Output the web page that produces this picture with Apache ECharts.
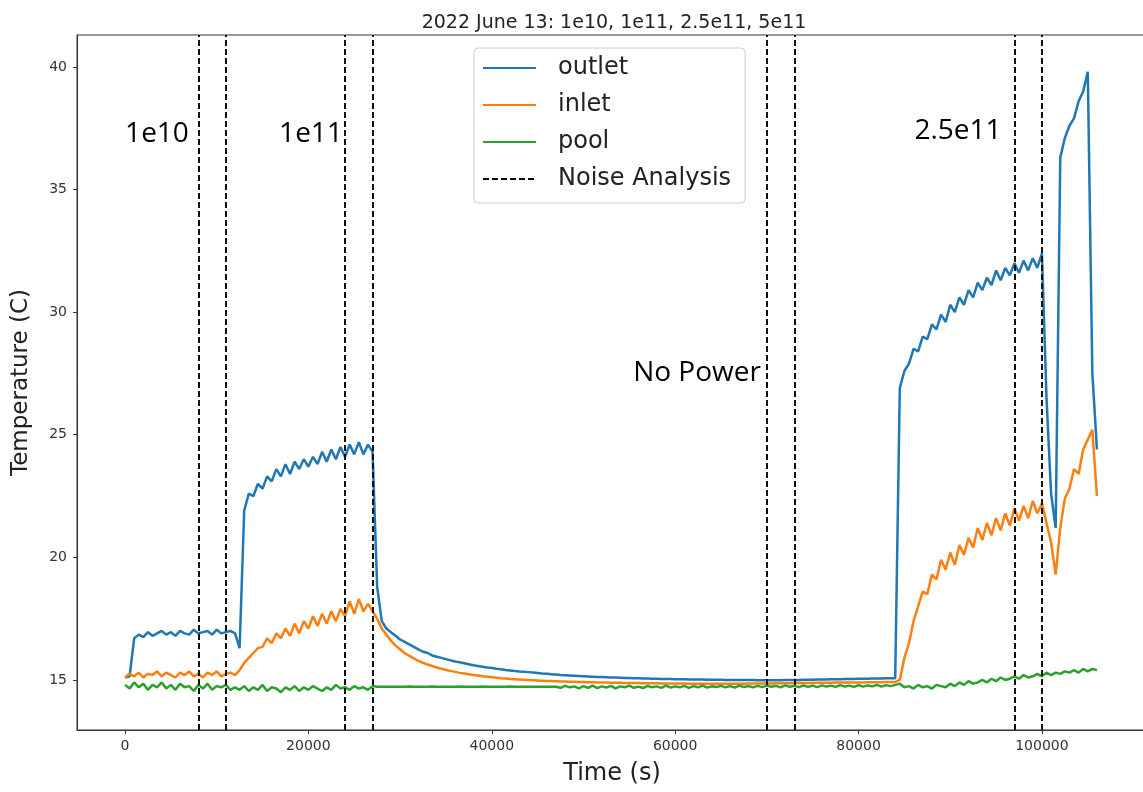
<!DOCTYPE html>
<html>
<head>
<meta charset="utf-8">
<title>2022 June 13</title>
<script src="https://cdn.jsdelivr.net/npm/echarts@6/dist/echarts.min.js"></script>
<style>
  html, body { margin: 0; padding: 0; background: #fff; }
  #chart { width: 1143px; height: 792px; }
</style>
</head>
<body>
<div id="chart"></div>
<script>
// sample times (s), one line = 5000 s
const timeS = [
  0, 500, 1000, 1500, 2000, 2500, 3000, 3500, 4000, 4500,
  5000, 5500, 6000, 6500, 7000, 7500, 8000, 8500, 9000, 9500,
  10000, 10500, 11000, 11500, 12000, 12500, 13000, 13500, 14000, 14500,
  15000, 15500, 16000, 16500, 17000, 17500, 18000, 18500, 19000, 19500,
  20000, 20500, 21000, 21500, 22000, 22500, 23000, 23500, 24000, 24500,
  25000, 25500, 26000, 26500, 27000, 27500, 28000, 28500, 29000, 29500,
  30000, 30500, 31000, 31500, 32000, 32500, 33000, 33500, 34000, 34500,
  35000, 35500, 36000, 36500, 37000, 37500, 38000, 38500, 39000, 39500,
  40000, 40500, 41000, 41500, 42000, 42500, 43000, 43500, 44000, 44500,
  45000, 45500, 46000, 46500, 47000, 47500, 48000, 48500, 49000, 49500,
  50000, 50500, 51000, 51500, 52000, 52500, 53000, 53500, 54000, 54500,
  55000, 55500, 56000, 56500, 57000, 57500, 58000, 58500, 59000, 59500,
  60000, 60500, 61000, 61500, 62000, 62500, 63000, 63500, 64000, 64500,
  65000, 65500, 66000, 66500, 67000, 67500, 68000, 68500, 69000, 69500,
  70000, 70500, 71000, 71500, 72000, 72500, 73000, 73500, 74000, 74500,
  75000, 75500, 76000, 76500, 77000, 77500, 78000, 78500, 79000, 79500,
  80000, 80500, 81000, 81500, 82000, 82500, 83000, 83500, 84000, 84500,
  85000, 85500, 86000, 86500, 87000, 87500, 88000, 88500, 89000, 89500,
  90000, 90500, 91000, 91500, 92000, 92500, 93000, 93500, 94000, 94500,
  95000, 95500, 96000, 96500, 97000, 97500, 98000, 98500, 99000, 99500,
  100000, 100500, 101000, 101500, 102000, 102500, 103000, 103500, 104000, 104500,
  105000, 105500, 106000
];

// outlet temperature (C)
const outletC = [
  15.1, 15.15, 16.7, 16.85, 16.75, 16.95, 16.8, 16.9, 17.0, 16.85,
  16.95, 16.8, 17.0, 16.9, 16.85, 17.05, 16.9, 16.95, 17.0, 16.85,
  17.05, 16.9, 16.95, 17.0, 16.9, 16.3, 21.9, 22.6, 22.5, 23.0,
  22.8, 23.3, 23.1, 23.6, 23.3, 23.8, 23.4, 23.9, 23.6, 24.0,
  23.7, 24.1, 23.8, 24.3, 23.9, 24.4, 24.0, 24.5, 24.1, 24.6,
  24.2, 24.7, 24.2, 24.6, 24.3, 18.8, 17.4, 17.1, 16.95, 16.8,
  16.65, 16.55, 16.45, 16.35, 16.25, 16.15, 16.1, 16.0, 15.95, 15.9,
  15.85, 15.8, 15.75, 15.72, 15.68, 15.64, 15.6, 15.57, 15.54, 15.51,
  15.49, 15.46, 15.44, 15.41, 15.39, 15.37, 15.35, 15.34, 15.32, 15.3,
  15.28, 15.26, 15.25, 15.23, 15.22, 15.2, 15.19, 15.18, 15.17, 15.16,
  15.15, 15.14, 15.13, 15.12, 15.12, 15.11, 15.1, 15.1, 15.09, 15.08,
  15.08, 15.07, 15.07, 15.06, 15.06, 15.05, 15.05, 15.04, 15.04, 15.04,
  15.03, 15.03, 15.03, 15.02, 15.02, 15.02, 15.02, 15.01, 15.01, 15.01,
  15.01, 15.0, 15.0, 15.0, 15.0, 15.0, 15.0, 15.0, 14.99, 14.99,
  14.99, 14.99, 14.99, 14.99, 15.0, 15.0, 15.0, 15.0, 15.01, 15.01,
  15.01, 15.02, 15.02, 15.02, 15.03, 15.03, 15.03, 15.04, 15.04, 15.04,
  15.05, 15.05, 15.05, 15.06, 15.06, 15.06, 15.07, 15.07, 15.07, 26.9,
  27.6, 27.9, 28.5, 28.4, 29.0, 28.9, 29.5, 29.3, 29.9, 29.6,
  30.3, 30.0, 30.6, 30.3, 30.9, 30.6, 31.2, 30.9, 31.4, 31.1,
  31.7, 31.3, 31.8, 31.5, 32.0, 31.6, 32.1, 31.7, 32.2, 31.8,
  32.4, 26.5, 22.6, 21.2, 36.3, 37.1, 37.6, 37.9, 38.6, 39.0,
  39.8, 27.5, 24.4
];

// inlet temperature (C)
const inletC = [
  15.1, 15.25, 15.15, 15.3, 15.1, 15.25, 15.2, 15.35, 15.15, 15.3,
  15.2, 15.1, 15.3, 15.2, 15.35, 15.15, 15.25, 15.1, 15.3, 15.2,
  15.35, 15.15, 15.25, 15.3, 15.2, 15.4, 15.7, 15.9, 16.1, 16.3,
  16.35, 16.7, 16.5, 16.9, 16.7, 17.1, 16.8, 17.3, 16.9, 17.4,
  17.1, 17.6, 17.2, 17.7, 17.3, 17.8, 17.4, 17.9, 17.6, 18.2,
  17.7, 18.3, 17.8, 18.1, 17.8, 17.5, 17.1, 16.85, 16.6, 16.4,
  16.25, 16.1, 15.98, 15.88, 15.78, 15.7, 15.63, 15.57, 15.51, 15.46,
  15.41, 15.37, 15.33, 15.29, 15.26, 15.23, 15.2, 15.18, 15.15, 15.13,
  15.11, 15.09, 15.07, 15.06, 15.04, 15.03, 15.02, 15.01, 15.0, 14.99,
  14.98, 14.97, 14.96, 14.96, 14.95, 14.94, 14.94, 14.93, 14.93, 14.92,
  14.92, 14.91, 14.91, 14.9, 14.9, 14.9, 14.89, 14.89, 14.89, 14.88,
  14.88, 14.88, 14.88, 14.87, 14.87, 14.87, 14.87, 14.86, 14.86, 14.86,
  14.86, 14.86, 14.86, 14.85, 14.85, 14.85, 14.85, 14.85, 14.85, 14.85,
  14.85, 14.85, 14.85, 14.85, 14.85, 14.85, 14.86, 14.86, 14.86, 14.86,
  14.86, 14.86, 14.87, 14.87, 14.87, 14.87, 14.88, 14.88, 14.88, 14.88,
  14.88, 14.89, 14.89, 14.89, 14.89, 14.9, 14.9, 14.9, 14.9, 14.9,
  14.9, 14.9, 14.91, 14.91, 14.91, 14.91, 14.92, 14.92, 14.92, 15.0,
  15.9, 16.5, 17.4, 18.0, 18.6, 18.5, 19.3, 19.1, 19.9, 19.5,
  20.2, 19.7, 20.5, 20.1, 20.8, 20.4, 21.2, 20.7, 21.4, 20.9,
  21.6, 21.1, 21.8, 21.3, 22.0, 21.5, 22.1, 21.6, 22.3, 21.8,
  22.2, 21.4, 20.6, 19.3, 21.2, 22.4, 22.8, 23.6, 23.4, 24.4,
  24.8, 25.2, 22.5
];

// pool temperature (C)
const poolC = [
  14.8, 14.65, 14.9, 14.7, 14.85, 14.6, 14.8, 14.7, 14.9, 14.65,
  14.8, 14.6, 14.85, 14.7, 14.75, 14.55, 14.8, 14.65, 14.85, 14.6,
  14.75, 14.7, 14.8, 14.6, 14.7, 14.6, 14.75, 14.55, 14.7, 14.6,
  14.8, 14.55, 14.7, 14.65, 14.5, 14.7, 14.6, 14.75, 14.55, 14.7,
  14.6, 14.75, 14.65, 14.55, 14.7, 14.6, 14.8, 14.65, 14.7, 14.6,
  14.75, 14.65, 14.7, 14.6, 14.75, 14.72, 14.72, 14.72, 14.72, 14.72,
  14.72, 14.72, 14.73, 14.72, 14.72, 14.72, 14.72, 14.73, 14.72, 14.72,
  14.72, 14.72, 14.72, 14.73, 14.72, 14.72, 14.72, 14.72, 14.73, 14.72,
  14.72, 14.72, 14.72, 14.72, 14.73, 14.72, 14.72, 14.72, 14.72, 14.72,
  14.72, 14.72, 14.72, 14.72, 14.72, 14.68, 14.76, 14.7, 14.74, 14.66,
  14.75, 14.68, 14.77, 14.67, 14.74, 14.69, 14.76, 14.66, 14.74, 14.7,
  14.77, 14.68, 14.73, 14.67, 14.76, 14.7, 14.74, 14.68, 14.77, 14.69,
  14.74, 14.7, 14.76, 14.68, 14.75, 14.7, 14.77, 14.69, 14.74, 14.71,
  14.76, 14.7, 14.75, 14.69, 14.77, 14.71, 14.75, 14.7, 14.76, 14.71,
  14.77, 14.72, 14.76, 14.7, 14.78, 14.72, 14.76, 14.71, 14.78, 14.72,
  14.77, 14.71, 14.78, 14.73, 14.77, 14.72, 14.79, 14.73, 14.77, 14.72,
  14.79, 14.73, 14.78, 14.74, 14.8, 14.73, 14.79, 14.75, 14.8, 14.85,
  14.7, 14.75, 14.65, 14.8, 14.7, 14.75, 14.65, 14.8, 14.75, 14.7,
  14.85, 14.75, 14.9, 14.8, 14.95, 14.85, 14.9, 15.0, 14.9, 15.05,
  14.95, 15.1, 15.0, 15.05, 15.15, 15.05, 15.2, 15.1, 15.15, 15.25,
  15.15, 15.3, 15.2, 15.3, 15.25, 15.35, 15.3, 15.4, 15.3, 15.45,
  15.35, 15.45, 15.4
];

// noise analysis windows (s)
const noiseLines = [8000, 11000, 24000, 27000, 70000, 73000, 97000, 100000];
const xTicks = [0, 20000, 40000, 60000, 80000, 100000];
const yTicks = [15, 20, 25, 30, 35, 40];
const phaseNames = ['1e10', '1e11', 'No Power', '2.5e11'];

const chart = echarts.init(document.getElementById('chart'), null, { renderer: 'canvas' });

const pair = (vals) => timeS.map((t, i) => [t, vals[i]]);
const lineSeries = (name, color, vals) => ({
  name: name,
  type: 'line',
  data: pair(vals),
  symbol: 'none',
  showSymbol: false,
  sampling: null,
  lineStyle: { color: color, width: 2.5 },
  itemStyle: { color: color },
  emphasis: { disabled: true },
});

const noteFont = '28px "Open Sans", "Noto Sans", sans-serif';
const noteText = (txt, x, y) => ({
  type: 'text',
  x: x,
  y: y,
  silent: true,
  style: { text: txt, font: noteFont, fill: '#000', align: 'center', verticalAlign: 'middle' },
});

chart.setOption({
  animation: false,
  backgroundColor: '#fff',
  title: {
    text: '2022 June 13: 1e10, 1e11, 2.5e11, 5e11',
    left: 609,
    top: 9,
    textAlign: 'center',
    textStyle: { fontFamily: 'DejaVu Sans', fontSize: 19, fontWeight: 'normal', color: '#222' },
  },
  // the axes box runs past the right edge of the picture
  grid: {
    left: 77, width: 1070, top: 35, bottom: 62,
    show: true, borderColor: '#333', borderWidth: 1,
    containLabel: false, outerBoundsMode: 'none',
  },
  legend: {
    orient: 'vertical',
    left: 474,
    top: 48,
    padding: [8, 14, 12, 8],
    itemWidth: 53,
    itemHeight: 14,
    itemGap: 13,
    borderColor: '#ccc',
    borderWidth: 1,
    borderRadius: 4,
    backgroundColor: 'rgba(255,255,255,0.85)',
    itemStyle: { opacity: 0, borderWidth: 0 },
    lineStyle: { width: 2 },
    textStyle: { fontFamily: 'DejaVu Sans', fontSize: 24, lineHeight: 24, color: '#222', padding: [0, 0, 0, 17] },
    data: ['outlet', 'inlet', 'pool', 'Noise Analysis'],
  },
  xAxis: {
    type: 'value',
    min: -5235,
    max: 111460,
    name: 'Time (s)',
    nameLocation: 'middle',
    nameGap: 32,
    nameTextStyle: { fontFamily: 'DejaVu Sans', fontSize: 24, color: '#222' },
    axisLine: { show: true, onZero: false, lineStyle: { color: '#333', width: 1 } },
    axisTick: { show: true, length: 4, lineStyle: { color: '#333' }, customValues: xTicks },
    axisLabel: {
      fontFamily: 'DejaVu Sans', fontSize: 14, color: '#333', margin: 9,
      customValues: xTicks, formatter: (v) => String(v),
    },
    splitLine: { show: false },
  },
  yAxis: {
    type: 'value',
    min: 12.96,
    max: 41.3,
    name: 'Temperature (C)',
    nameLocation: 'middle',
    nameGap: 44,
    nameTextStyle: { fontFamily: 'DejaVu Sans', fontSize: 23, color: '#222' },
    axisLine: { show: true, onZero: false, lineStyle: { color: '#333', width: 1 } },
    axisTick: { show: true, length: 4, lineStyle: { color: '#333' }, customValues: yTicks },
    axisLabel: { fontFamily: 'DejaVu Sans', fontSize: 14, color: '#333', margin: 10, customValues: yTicks },
    splitLine: { show: false },
  },
  series: [
    lineSeries('outlet', '#1f77b4', outletC),
    lineSeries('inlet', '#ff7f0e', inletC),
    lineSeries('pool', '#2ca02c', poolC),
    {
      name: 'Noise Analysis',
      type: 'line',
      data: [],
      symbol: 'none',
      color: '#000',
      lineStyle: { color: '#000', width: 2, type: [6, 3] },
      markLine: {
        silent: true,
        symbol: ['none', 'none'],
        label: { show: false },
        lineStyle: { color: '#111', width: 2, type: [6, 3] },
        data: noiseLines.map((t) => ({ xAxis: t })),
      },
    },
  ],
  graphic: [
    noteText(phaseNames[0], 157, 134),
    noteText(phaseNames[1], 311, 134),
    noteText(phaseNames[2], 697, 373),
    noteText(phaseNames[3], 958, 131),
  ],
});
</script>
</body>
</html>
